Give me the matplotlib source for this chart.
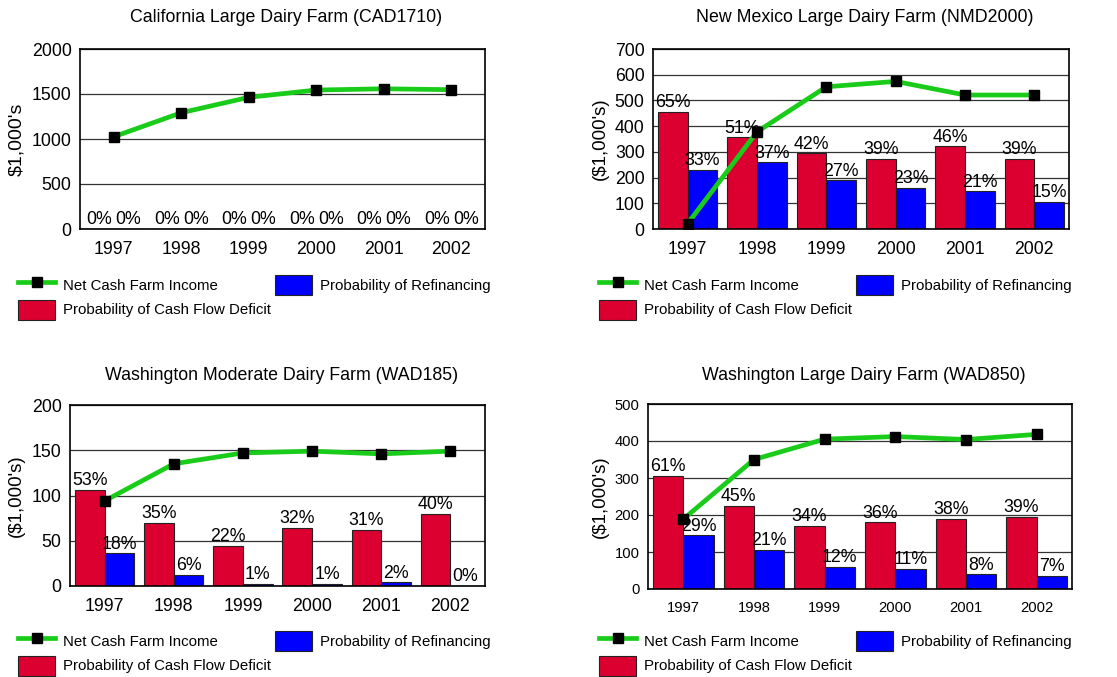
import matplotlib
matplotlib.use("Agg")
import matplotlib.pyplot as plt
from matplotlib.lines import Line2D
from matplotlib.patches import Patch
import numpy as np

plt.rcParams['font.family'] = ['Liberation Sans', 'DejaVu Sans']

years = ['1997', '1998', '1999', '2000', '2001', '2002']

# California Large Dairy Farm (CAD1710)
ca_title = 'California Large Dairy Farm (CAD1710)'
ca_income = [1025, 1292, 1463, 1544, 1558, 1548]
ca_deficit = [0, 0, 0, 0, 0, 0]
ca_refi = [0, 0, 0, 0, 0, 0]
ca_ymax, ca_step = 2000, 500

# New Mexico Large Dairy Farm (NMD2000)
nm_title = 'New Mexico Large Dairy Farm (NMD2000)'
nm_income = [21, 378, 553, 574, 521, 521]
nm_deficit = [65, 51, 42, 39, 46, 39]
nm_refi = [33, 37, 27, 23, 21, 15]
nm_ymax, nm_step = 700, 100

# Washington Moderate Dairy Farm (WAD185)
wam_title = 'Washington Moderate Dairy Farm (WAD185)'
wam_income = [94, 135, 147, 149, 146, 149]
wam_deficit = [53, 35, 22, 32, 31, 40]
wam_refi = [18, 6, 1, 1, 2, 0]
wam_ymax, wam_step = 200, 50

# Washington Large Dairy Farm (WAD850)
wal_title = 'Washington Large Dairy Farm (WAD850)'
wal_income = [189, 350, 405, 412, 404, 418]
wal_deficit = [61, 45, 34, 36, 38, 39]
wal_refi = [29, 21, 12, 11, 8, 7]
wal_ymax, wal_step = 500, 100

RED = '#DC0030'
BLUE = '#0000FF'
GREEN = '#1ACC1A'

W, H = 1117, 677
fig = plt.figure(figsize=(W / 100, H / 100), dpi=100)


def px_rect(left, right, top, bottom):
    return [left / W, 1 - bottom / H, (right - left) / W, (bottom - top) / H]


panels = [
    dict(title=ca_title, income=ca_income, deficit=ca_deficit, refi=ca_refi,
         ymax=ca_ymax, step=ca_step, ylabel="$1,000's",
         box=(80, 485, 49, 229), tick_fs=12.8, ylab_fs=14, ylab_x=-0.136,
         title_y=17, leg=(18, 275)),
    dict(title=nm_title, income=nm_income, deficit=nm_deficit, refi=nm_refi,
         ymax=nm_ymax, step=nm_step, ylabel="($1,000's)",
         box=(653, 1069, 49, 229), tick_fs=12.7, ylab_fs=13.5, ylab_x=-0.107,
         title_y=17, leg=(599, 275)),
    dict(title=wam_title, income=wam_income, deficit=wam_deficit, refi=wam_refi,
         ymax=wam_ymax, step=wam_step, ylabel="($1,000's)",
         box=(70, 485, 405, 586), tick_fs=12.8, ylab_fs=13.5, ylab_x=-0.108,
         title_y=375, leg=(18, 631)),
    dict(title=wal_title, income=wal_income, deficit=wal_deficit, refi=wal_refi,
         ymax=wal_ymax, step=wal_step, ylabel="($1,000's)",
         box=(648, 1072, 404, 589), tick_fs=10.6, ylab_fs=13.5, ylab_x=-0.093,
         title_y=375, leg=(599, 631)),
]

bw = 0.43
x = np.arange(len(years))

for p in panels:
    l, r, t, b = p['box']
    ax = fig.add_axes(px_rect(l, r, t, b))
    ymax = p['ymax']
    red_h = [v / 100 * ymax for v in p['deficit']]
    blue_h = [v / 100 * ymax for v in p['refi']]

    ax.bar(x - bw / 2, red_h, bw, color=RED, edgecolor='#222222', linewidth=0.8, zorder=2)
    ax.bar(x + bw / 2, blue_h, bw, color=BLUE, edgecolor='#222222', linewidth=0.8, zorder=2)
    ax.plot(x, p['income'], color=GREEN, lw=3.4, marker='s', markersize=7.5,
            markerfacecolor='black', markeredgecolor='black', zorder=4)

    for xi, v, h in zip(x, p['deficit'], red_h):
        ax.annotate(f'{v}%', (xi - bw / 2, h), xytext=(0, 0.5), textcoords='offset points',
                    ha='center', va='bottom', fontsize=12.8, zorder=5)
    for xi, v, h in zip(x, p['refi'], blue_h):
        ax.annotate(f'{v}%', (xi + bw / 2, h), xytext=(0, 0.5), textcoords='offset points',
                    ha='center', va='bottom', fontsize=12.8, zorder=5)

    ax.set_xlim(-0.5, len(years) - 0.5)
    ax.set_ylim(0, ymax)
    ax.set_yticks(np.arange(0, ymax + 1, p['step']))
    ax.set_xticks(x)
    ax.set_xticklabels(years)
    ax.tick_params(axis='both', length=0, labelsize=p['tick_fs'])
    ax.tick_params(axis='x', pad=8.5)
    ax.tick_params(axis='y', pad=6)
    ax.yaxis.grid(True, color='#333333', linewidth=0.9)
    ax.set_axisbelow(True)
    for s in ax.spines.values():
        s.set_linewidth(1.2)
        s.set_color('black')

    ax.set_ylabel(p['ylabel'], fontsize=p['ylab_fs'])
    ax.yaxis.set_label_coords(p['ylab_x'], 0.5)

    ty = 1 + (t - p['title_y']) / (b - t)
    ax.set_title(p['title'], fontsize=12.8, x=0.51, y=ty, va='center', pad=0)

    handles = [
        Line2D([], [], color=GREEN, lw=3.4, marker='s', markersize=7.5,
               markerfacecolor='black', markeredgecolor='black'),
        Patch(facecolor=RED, edgecolor='#222222', linewidth=0.8),
        Patch(facecolor=BLUE, edgecolor='#222222', linewidth=0.8),
    ]
    labels = ['Net Cash Farm Income', 'Probability of Cash Flow Deficit',
              'Probability of Refinancing']
    lx, ly = p['leg']
    ax.legend(handles, labels, ncol=2, loc='upper left',
              bbox_to_anchor=(lx / W, 1 - ly / H), bbox_transform=fig.transFigure,
              frameon=False, fontsize=10.8, borderpad=0, borderaxespad=0,
              handlelength=2.47, handleheight=1.675, handletextpad=0.53,
              columnspacing=0.27, labelspacing=0.3)

fig.savefig('out.png', dpi=100)
